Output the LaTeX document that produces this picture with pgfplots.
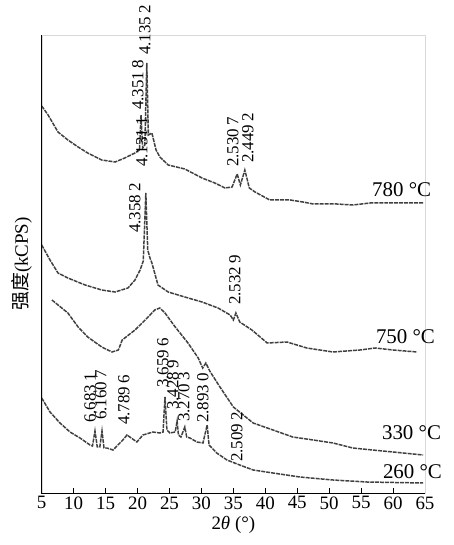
\documentclass[border=0pt]{standalone}
\usepackage{pgfplots}
\pgfplotsset{compat=1.18}
\usepackage{fontspec}
\setmainfont{Liberation Serif}
\newfontfamily\cjk{Noto Sans CJK SC}
\tikzset{xrd/.style={black!75, line width=1.5pt, dash pattern=on 4pt off 1pt, mark=none}}
\begin{document}
\begin{tikzpicture}
\path[use as bounding box] (-41.7bp,-52bp) rectangle (412.3bp,493bp);
\begin{axis}[
  at={(0,0)}, anchor=south west,
  width=383.3bp, height=458bp, scale only axis,
  xmin=5, xmax=65, ymin=0, ymax=458,
  xtick={5,10,...,65}, ytick=\empty,
  xtick pos=bottom, tick align=inside,
  major tick length=5bp,
  tick style={black, line width=0.6pt},
  axis line style={black!15},
  clip=false,
  /pgf/number format/assume math mode=true,
  ticklabel style={font=\fontsize{19}{19}\selectfont},
  xlabel={2\textit{θ} (°)},
  xlabel style={at={(axis description cs:0.5,0)}, anchor=center, yshift=-32bp, font=\fontsize{19}{19}\selectfont},
  ylabel={{\cjk 强度}(kCPS)},
  ylabel style={at={(axis description cs:0,0.5)}, anchor=center, yshift=19.7bp, font=\fontsize{19}{19}\selectfont},
]
% 780 C
\addplot[xrd] coordinates {
(5,387) (6.0,378) (7.55,361) (9.1,353) (10.7,346) (12.2,340) (14.4,333) (16.5,331) (18.0,335) (19.6,340) (20.3,343) (20.55,378) (20.8,345) (21.15,348) (21.45,430) (21.7,358) (22.25,360) (22.9,343) (23.5,336) (24.8,328) (27.4,324) (30.1,315) (32.1,310) (33.7,305) (34.8,306) (35.6,319) (36.1,308) (36.8,323) (37.5,305) (38.4,301) (40.7,293) (43.9,293) (45.9,291) (47.5,289) (51.2,289) (53.7,288) (56.4,290) (60.0,290) (64.7,290)
};
% 750 C
\addplot[xrd] coordinates {
(5,248) (6.3,233) (7.55,220) (9.1,215) (11.8,208) (14.4,203) (16.5,201) (18.5,205) (19.6,213) (20.4,223) (20.9,232) (21.3,300) (21.6,243) (21.95,235) (22.25,230) (23.2,208) (24.8,201) (27.4,196) (30.1,191) (32.6,185) (34.5,178) (35.0,173) (35.4,180) (36.0,171) (37.9,163) (40.3,150) (43.4,151) (46.5,145) (50.6,141) (54.8,143) (57.2,145) (60.0,143) (63.8,141)
};
% 330 C
\addplot[xrd] coordinates {
(6.6,193) (9.1,180) (10.7,166) (12.2,156) (14.4,146) (16.0,141) (17.0,143) (17.6,153) (19.6,163) (21.2,173) (22.7,183) (23.5,185) (24.3,180) (25.9,166) (27.9,150) (29.5,135) (30.2,125) (30.7,130) (31.3,122) (32.9,106) (35.0,86) (38.1,70) (41.2,63) (44.3,56) (47.5,53) (50.6,50) (53.7,45) (56.8,43) (60.0,41) (64.7,38)
};
% 260 C
\addplot[xrd] coordinates {
(5,95) (6.3,81) (7.86,70) (9.43,61) (11.0,55) (12.56,48) (12.95,47) (13.34,62) (13.7,46) (14.1,46) (14.44,62) (14.75,45) (15.2,45) (16.16,43) (17.7,53) (18.35,58) (19.9,51) (20.85,58) (22.4,61) (23.5,60) (24.0,61) (24.3,96) (24.6,63) (25.08,60) (25.9,61) (26.2,72) (26.4,58) (26.8,56) (27.4,66) (27.7,56) (28.2,55) (29.3,51) (30.24,50) (30.9,68) (31.2,48) (32.4,40) (34.0,33) (36.0,28) (38.1,23) (41.2,20) (45.4,16) (50.6,13) (55.9,11) (64.7,10)
};
\draw[black, line width=0.8pt, solid] (rel axis cs:0,1) -- (rel axis cs:0,0) -- (rel axis cs:1,0);
% peak labels
\begin{scope}[every node/.style={rotate=90, anchor=west, inner sep=0pt, font=\fontsize{17}{17}\selectfont}]
\node at (axis cs:21.17,438) {4.135\hspace{0.2em}2};
\node at (axis cs:20.07,383) {4.351\hspace{0.2em}8};
\node at (axis cs:20.70,326) {4.131\hspace{0.2em}1};
\node at (axis cs:34.94,326) {2.530\hspace{0.2em}7};
\node at (axis cs:37.29,330) {2.449\hspace{0.2em}2};
\node at (axis cs:19.60,260) {4.358\hspace{0.2em}2};
\node at (axis cs:35.25,188) {2.532\hspace{0.2em}9};
\node at (axis cs:23.98,105) {3.659\hspace{0.2em}6};
\node at (axis cs:25.55,83) {3.428\hspace{0.2em}9};
\node at (axis cs:27.27,71) {3.270\hspace{0.2em}3};
\node at (axis cs:30.24,70) {2.893\hspace{0.2em}0};
\node at (axis cs:12.56,70) {6.683\hspace{0.2em}1};
\node at (axis cs:14.28,73) {6.160\hspace{0.2em}7};
\node at (axis cs:17.88,68) {4.789\hspace{0.2em}6};
\node at (axis cs:35.56,31) {2.509\hspace{0.2em}2};
\end{scope}
\begin{scope}[every node/.style={anchor=west, inner sep=0pt, font=\fontsize{21}{21}\selectfont}]
\node at (axis cs:56.7,303) {780 °C};
\node at (axis cs:57.3,156) {750 °C};
\node at (axis cs:58.25,60) {330 °C};
\node at (axis cs:58.4,21) {260 °C};
\end{scope}
\end{axis}
\end{tikzpicture}
\end{document}
